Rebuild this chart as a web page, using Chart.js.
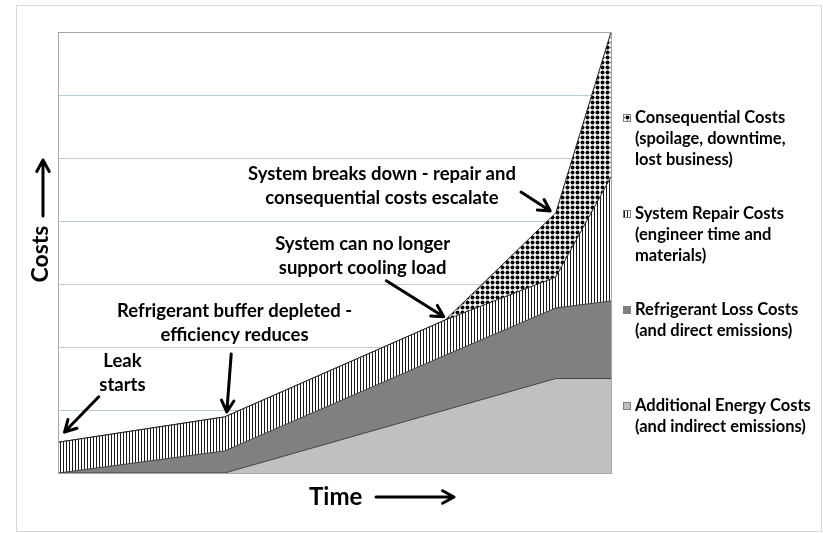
<!DOCTYPE html>
<html>
<head>
<meta charset="utf-8">
<script src="https://cdn.jsdelivr.net/npm/chart.js@4"></script>
<style>
  html, body { margin: 0; padding: 0; background: #fff; }
  #wrap { width: 823px; height: 533px; }
</style>
</head>
<body>
<div id="wrap"><canvas id="costChart" width="823" height="533"></canvas></div>
<script>
// Data (arbitrary cost units)
const timePoints = [0, 3, 7, 9, 10];
const energyCosts = [0, 0, 1.0, 1.5, 1.5];
const refrigerantCosts = [0, 0.35, 0.87, 1.12, 1.23];
const repairCosts = [0.49, 0.54, 0.56, 0.49, 1.97];
const consequentialCosts = [0, 0, 0, 1.02, 2.30];
const yTicks = [0, 1, 2, 3, 4, 5, 6, 7];

const legendLabels = [
    ["Additional Energy Costs", "(and indirect emissions)"],
    ["Refrigerant Loss Costs", "(and direct emissions)"],
    ["System Repair Costs", "(engineer time and", "materials)"],
    ["Consequential Costs", "(spoilage, downtime,", "lost business)"]
];

// Callouts, placed in data coordinates
const callouts = [
    { lines: ["Leak", "starts"], x: 1.15, y: 1.77, from: [0.72, 1.21], to: [0.1, 0.65] },
    { lines: ["Refrigerant buffer depleted -", "efficiency reduces"], x: 3.18, y: 2.57, from: [3.12, 1.89], to: [3.04, 0.97] },
    { lines: ["System can no longer", "support cooling load"], x: 5.5, y: 3.64, from: [5.93, 3.05], to: [6.97, 2.48] },
    { lines: ["System breaks down - repair and", "consequential costs escalate"], x: 5.85, y: 4.74, from: [8.37, 4.46], to: [8.9, 4.16] }
];

const FONT = "Lato, 'Noto Sans', sans-serif";

function hatchPattern() {
    const c = document.createElement("canvas");
    c.width = 3; c.height = 4;
    const g = c.getContext("2d");
    g.fillStyle = "#fff"; g.fillRect(0, 0, 3, 4);
    g.fillStyle = "#1a1a1a"; g.fillRect(0, 0, 1, 4);
    return g.createPattern(c, "repeat");
}

function dotPattern() {
    const c = document.createElement("canvas");
    c.width = 5; c.height = 5;
    const g = c.getContext("2d");
    g.fillStyle = "#fff"; g.fillRect(0, 0, 5, 5);
    g.fillStyle = "#000";
    g.beginPath(); g.arc(2.5, 2.5, 2.0, 0, Math.PI * 2); g.fill();
    return g.createPattern(c, "repeat");
}

function toPoints(values) {
    return timePoints.map((t, i) => ({ x: t, y: values[i] }));
}

function drawArrow(ctx, x1, y1, x2, y2) {
    const a = Math.atan2(y2 - y1, x2 - x1);
    const h = 13;
    ctx.save();
    ctx.strokeStyle = "#000";
    ctx.lineWidth = 3;
    ctx.lineCap = "round";
    ctx.lineJoin = "round";
    ctx.beginPath();
    ctx.moveTo(x1, y1);
    ctx.lineTo(x2, y2);
    ctx.moveTo(x2 - h * Math.cos(a - 0.5), y2 - h * Math.sin(a - 0.5));
    ctx.lineTo(x2, y2);
    ctx.lineTo(x2 - h * Math.cos(a + 0.5), y2 - h * Math.sin(a + 0.5));
    ctx.stroke();
    ctx.restore();
}

const decorations = {
    id: "decorations",
    beforeDraw(chart) {
        const ctx = chart.ctx;
        ctx.save();
        ctx.fillStyle = "#fff";
        ctx.fillRect(0, 0, chart.width, chart.height);
        ctx.strokeStyle = "#d9d9d9";
        ctx.lineWidth = 1;
        ctx.strokeRect(16.5, 5.5, chart.width - 18, chart.height - 7);
        ctx.restore();
    },
    afterDraw(chart) {
        const ctx = chart.ctx;
        const area = chart.chartArea;
        const xs = chart.scales.x, ys = chart.scales.y;

        // plot border
        ctx.save();
        ctx.strokeStyle = "#a6a6a6";
        ctx.lineWidth = 1;
        ctx.strokeRect(Math.round(area.left) - 0.5, Math.round(area.top) + 0.5,
            Math.round(area.right - area.left) + 1, Math.round(area.bottom - area.top));
        ctx.restore();

        // callouts
        ctx.save();
        ctx.fillStyle = "#000";
        ctx.font = "bold 18.5px " + FONT;
        ctx.textAlign = "center";
        ctx.textBaseline = "middle";
        callouts.forEach(c => {
            const px = xs.getPixelForValue(c.x);
            const py = ys.getPixelForValue(c.y);
            c.lines.forEach((t, i) => ctx.fillText(t, px, py + i * 24));
            drawArrow(ctx, xs.getPixelForValue(c.from[0]), ys.getPixelForValue(c.from[1]),
                xs.getPixelForValue(c.to[0]), ys.getPixelForValue(c.to[1]));
        });
        ctx.restore();

        // axis titles
        ctx.save();
        ctx.fillStyle = "#000";
        ctx.font = "bold 23px " + FONT;
        ctx.textBaseline = "middle";
        ctx.textAlign = "center";
        ctx.translate(area.left - 18, area.top + 222);
        ctx.rotate(-Math.PI / 2);
        ctx.fillText("Costs", 0, 0);
        ctx.restore();
        drawArrow(ctx, area.left - 16, area.top + 184, area.left - 16, area.top + 128);

        ctx.save();
        ctx.fillStyle = "#000";
        ctx.font = "bold 24px " + FONT;
        ctx.textBaseline = "middle";
        ctx.textAlign = "left";
        ctx.fillText("Time", area.left + 250, area.bottom + 24);
        ctx.restore();
        drawArrow(ctx, area.left + 317, area.bottom + 24, area.left + 395, area.bottom + 24);

        // legend (top entry = top series)
        ctx.save();
        ctx.font = "bold 16.5px " + FONT;
        ctx.textBaseline = "middle";
        ctx.textAlign = "left";
        const n = chart.data.datasets.length;
        for (let k = 0; k < n; k++) {
            const ds = chart.data.datasets[n - 1 - k];
            const lines = legendLabels[n - 1 - k];
            const ly = area.top + 86 + k * 96;
            const mx = area.right + 12;
            ctx.fillStyle = ds.backgroundColor;
            ctx.fillRect(mx, ly - 4, 8, 8);
            ctx.strokeStyle = "#7f7f7f";
            ctx.lineWidth = 1;
            ctx.strokeRect(mx + 0.5, ly - 3.5, 7, 7);
            ctx.fillStyle = "#000";
            lines.forEach((t, i) => ctx.fillText(t, mx + 12, ly + i * 21));
        }
        ctx.restore();
    }
};

const ctx = document.getElementById("costChart").getContext("2d");
const costChart = new Chart(ctx, {
    type: "line",
    data: {
        datasets: [
            { label: legendLabels[0].join(" "), data: toPoints(energyCosts), fill: "origin",
              backgroundColor: "#c0c0c0", borderColor: "#404040" },
            { label: legendLabels[1].join(" "), data: toPoints(refrigerantCosts), fill: "-1",
              backgroundColor: "#808080", borderColor: "#404040" },
            { label: legendLabels[2].join(" "), data: toPoints(repairCosts), fill: "-1",
              backgroundColor: hatchPattern(), borderColor: "#262626" },
            { label: legendLabels[3].join(" "), data: toPoints(consequentialCosts), fill: "-1",
              backgroundColor: dotPattern(), borderColor: "#262626" }
        ]
    },
    options: {
        responsive: false,
        animation: false,
        devicePixelRatio: 1,
        elements: {
            point: { radius: 0, hoverRadius: 0 },
            line: { borderWidth: 1, tension: 0 }
        },
        layout: { padding: { left: 59, top: 32, right: 212, bottom: 60 } },
        plugins: { legend: { display: false }, tooltip: { enabled: false } },
        scales: {
            x: { type: "linear", min: timePoints[0], max: timePoints[timePoints.length - 1], display: false },
            y: {
                stacked: true,
                min: yTicks[0],
                max: yTicks[yTicks.length - 1],
                afterBuildTicks: s => { s.ticks = yTicks.map(v => ({ value: v })); },
                afterFit: s => { s.width = 0; },
                ticks: { display: false },
                border: { display: false },
                grid: { color: "#b7cbd8", drawTicks: false, lineWidth: 1 }
            }
        }
    },
    plugins: [decorations]
});
</script>
</body>
</html>
